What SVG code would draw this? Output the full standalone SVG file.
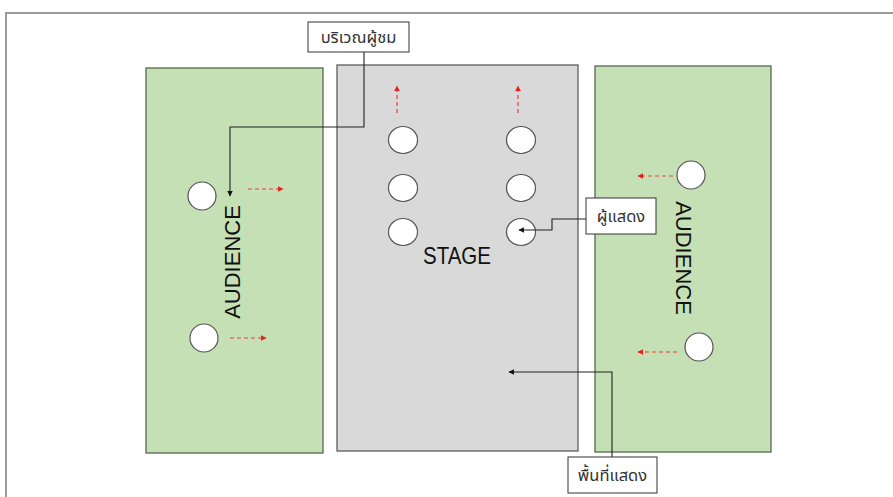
<svg xmlns="http://www.w3.org/2000/svg" width="893" height="497" viewBox="0 0 893 497">
<style>
.aud{fill:#c5e0b4;stroke:#56694c;stroke-width:1.3}
.stage{fill:#d9d9d9;stroke:#5e5e5e;stroke-width:1.3}
.c{fill:#fff;stroke:#555;stroke-width:1.2}
.red{stroke:#e8403a;stroke-width:1.2;stroke-dasharray:4 3;fill:none}
.con{stroke:#222;stroke-width:1.1;fill:none}
.lbl{fill:#fff;stroke:#333;stroke-width:1}
.big{font-family:"Liberation Sans",Arial,sans-serif;font-size:22px;fill:#111}
.th{font-family:"Noto Sans Thai","Tlwg Typist","Loma","Garuda",sans-serif;font-size:16.5px;font-weight:normal;fill:#333}
</style>
<defs>
<marker id="ah" viewBox="0 0 10 10" refX="9" refY="5" markerWidth="5" markerHeight="5" orient="auto"><path d="M0,0 L10,5 L0,10 z" fill="#111"/></marker>
<marker id="rh" viewBox="0 0 10 10" refX="9" refY="5" markerWidth="5" markerHeight="5" orient="auto"><path d="M0,0 L10,5 L0,10 z" fill="#e8201a"/></marker>
</defs>
<rect width="893" height="497" fill="#fff"/>
<path d="M6,497 V13 H893" fill="none" stroke="#9a9a9a" stroke-width="2"/>

<g id="audience-left">
<rect class="aud" x="146" y="68" width="177" height="385"/>
<text class="big" transform="translate(240,262) rotate(-90)" text-anchor="middle">AUDIENCE</text>
<circle class="c" cx="202" cy="196" r="14"/>
<circle class="c" cx="204" cy="338" r="14"/>
<line class="red" x1="248" y1="189" x2="283" y2="189" marker-end="url(#rh)"/>
<line class="red" x1="230" y1="338" x2="266" y2="338" marker-end="url(#rh)"/>
</g>

<g id="stage">
<rect class="stage" x="337" y="65" width="241" height="386"/>
<text class="big" x="457" y="264" text-anchor="middle" textLength="68" lengthAdjust="spacingAndGlyphs" style="font-size:24px">STAGE</text>
<ellipse class="c" cx="403" cy="140" rx="14.5" ry="13.5"/>
<ellipse class="c" cx="403" cy="188" rx="14.5" ry="13.5"/>
<ellipse class="c" cx="403" cy="232" rx="14.5" ry="13.5"/>
<ellipse class="c" cx="521" cy="140" rx="14.5" ry="13.5"/>
<ellipse class="c" cx="521" cy="188" rx="14.5" ry="13.5"/>
<ellipse class="c" cx="521" cy="232" rx="14.5" ry="13.5"/>
<line class="red" x1="397" y1="113" x2="397" y2="86" marker-end="url(#rh)"/>
<line class="red" x1="518" y1="113" x2="518" y2="86" marker-end="url(#rh)"/>
</g>

<g id="audience-right">
<rect class="aud" x="595" y="66" width="176" height="386"/>
<text class="big" transform="translate(676,258) rotate(90)" text-anchor="middle">AUDIENCE</text>
<circle class="c" cx="691" cy="175" r="14"/>
<circle class="c" cx="699" cy="347" r="14"/>
<line class="red" x1="673" y1="176" x2="638" y2="176" marker-end="url(#rh)"/>
<line class="red" x1="677" y1="352" x2="638" y2="352" marker-end="url(#rh)"/>
</g>

<g id="connectors">
<path class="con" d="M364,52 V127 H230 V196" marker-end="url(#ah)"/>
<path class="con" d="M586,219 H552 V230 H519" marker-end="url(#ah)"/>
<path class="con" d="M612,457 V372 H509" marker-end="url(#ah)"/>
</g>

<g id="label-audience-area">
<rect class="lbl" x="308" y="22" width="101" height="30"/>
<text class="th" x="358.5" y="43" text-anchor="middle">บริเวณผู้ชม</text>
</g>
<g id="label-performer">
<rect class="lbl" x="586" y="198" width="70" height="36"/>
<text class="th" x="621" y="222" text-anchor="middle">ผู้แสดง</text>
</g>
<g id="label-stage-area">
<rect class="lbl" x="568" y="457" width="89" height="36"/>
<text class="th" x="612.5" y="481" text-anchor="middle">พื้นที่แสดง</text>
</g>
</svg>
